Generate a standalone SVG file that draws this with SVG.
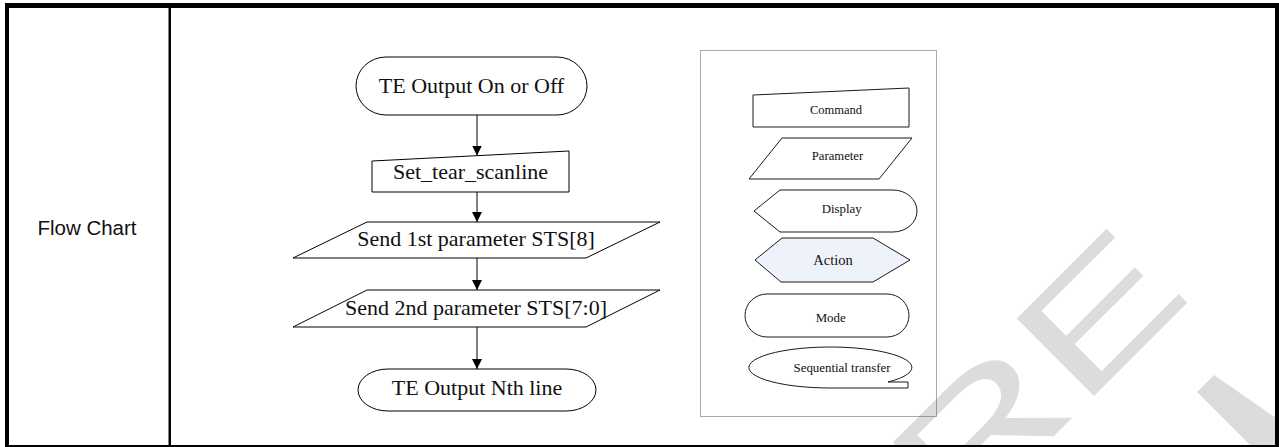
<svg xmlns="http://www.w3.org/2000/svg" width="1279" height="447" viewBox="0 0 1279 447">
<style>
.shape{fill:#fff;stroke:#000;stroke-width:1}
.lg{fill:#fff;stroke:#1a1a1a;stroke-width:1}
.ft{font-family:"Liberation Serif","Times New Roman",serif;font-size:22px;fill:#111;text-anchor:middle}
.lt{font-family:"Liberation Serif","Times New Roman",serif;fill:#111;text-anchor:middle}
.conn{stroke:#000;stroke-width:1;fill:none}
.wm{fill:#dcdcdc;font-family:"Liberation Sans",Arial,sans-serif;font-size:159px}
</style>
<defs>
<marker id="arr" markerUnits="userSpaceOnUse" markerWidth="10" markerHeight="10" refX="10" refY="5" orient="auto">
<path d="M0,0 L10,5 L0,10 Z" fill="#000"/>
</marker>
</defs>
<rect width="1279" height="447" fill="#fff"/>
<g id="watermark">
<text class="wm" transform="translate(955.9,534.1) rotate(-45) scale(1.53,1)" x="0" y="0">R</text>
<text class="wm" transform="translate(1080.1,409.9) rotate(-45) scale(1.53,1)" x="0" y="0">E</text>
<polygon class="wm" points="1197,392 1214,375 1279,420 1279,445 1250,445"/>
</g>
<g id="table">
<rect x="5" y="3" width="1274" height="5" fill="#000"/>
<rect x="5" y="3" width="4" height="444" fill="#000"/>
<rect x="1275" y="3" width="4" height="444" fill="#000"/>
<rect x="5" y="445" width="1274" height="2" fill="#000"/>
<rect x="168.5" y="8" width="2.5" height="437" fill="#000"/>
<text x="87" y="235" font-family="Liberation Sans, Arial, sans-serif" font-size="20.5" fill="#111" text-anchor="middle">Flow Chart</text>
</g>
<g id="connectors">
<line class="conn" x1="477" y1="115" x2="477" y2="155.5" marker-end="url(#arr)"/>
<line class="conn" x1="477" y1="192" x2="477" y2="222" marker-end="url(#arr)"/>
<line class="conn" x1="477" y1="258" x2="477" y2="290" marker-end="url(#arr)"/>
<line class="conn" x1="477" y1="327" x2="477" y2="369" marker-end="url(#arr)"/>
</g>
<g id="n1">
<rect class="shape" x="356" y="57" width="231" height="58" rx="30" ry="29"/>
<text class="ft" x="471.5" y="93">TE Output On or Off</text>
</g>
<g id="n2">
<polygon class="shape" points="372,161 569,151 569,192 372,192"/>
<text class="ft" x="470.5" y="179">Set_tear_scanline</text>
</g>
<g id="n3">
<polygon class="shape" points="367,222 660,222 586,258 293,258"/>
<text class="ft" x="476" y="246">Send 1st parameter STS[8]</text>
</g>
<g id="n4">
<polygon class="shape" points="367,290 660,290 586,327 293,327"/>
<text class="ft" x="476" y="315">Send 2nd parameter STS[7:0]</text>
</g>
<g id="n5">
<rect class="shape" x="358" y="369" width="238" height="42" rx="30" ry="21"/>
<text class="ft" x="477" y="395">TE Output Nth line</text>
</g>
<g id="legend">
<rect x="700.5" y="50.5" width="236" height="366" fill="none" stroke="#555" stroke-width="1" stroke-dasharray="1,1"/>
<g id="lg-command">
<polygon class="lg" points="753,95 909,88 909,127 753,127"/>
<text class="lt" x="836" y="114" font-size="12.5">Command</text>
</g>
<g id="lg-parameter">
<polygon class="lg" points="782,138 912,138 879,179 749,179"/>
<text class="lt" x="837.5" y="160" font-size="12.7">Parameter</text>
</g>
<g id="lg-display">
<path class="lg" d="M754,211 L780,190 L893,190 A24,21 0 0 1 893,232 L780,232 Z"/>
<text class="lt" x="841.7" y="212.7" font-size="12.9">Display</text>
</g>
<g id="lg-action">
<polygon points="755,260 782,238 873,238 910,260 873,282 781,282" fill="#eef2fa" stroke="#1a1a1a" stroke-width="1"/>
<text class="lt" x="833" y="265" font-size="14.5">Action</text>
</g>
<g id="lg-mode">
<rect class="lg" x="745" y="294" width="164" height="43" rx="22" ry="21.5"/>
<text class="lt" x="830.7" y="321.7" font-size="12.9">Mode</text>
</g>
<g id="lg-seq">
<path class="lg" d="M830.5,388 L908,388 L908,382 L888,382 A81.5,20.5 0 1 0 830.5,388 Z"/>
<text class="lt" x="842" y="371.7" font-size="12.9">Sequential transfer</text>
</g>
</g>
</svg>
